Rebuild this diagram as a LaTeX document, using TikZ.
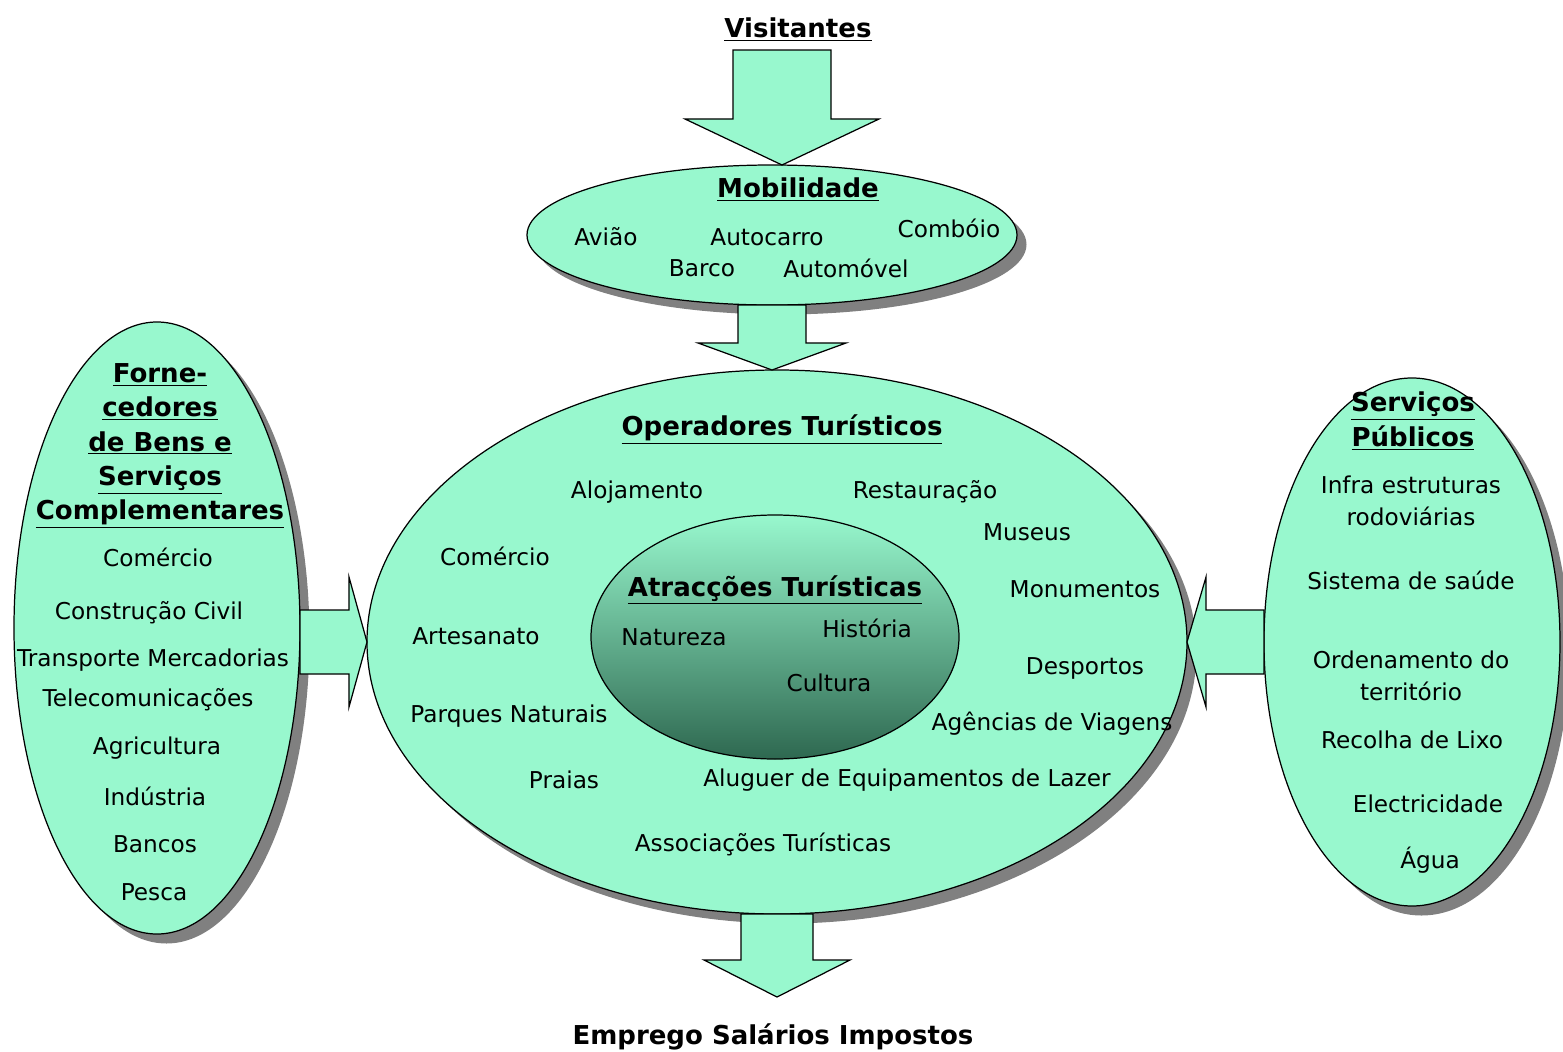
\documentclass[tikz,border=0pt]{standalone}
\usepackage{fontspec}
\setmainfont{DejaVu Sans}
\usetikzlibrary{shapes.geometric,shadows,calc,positioning}

\definecolor{mint}{RGB}{152,248,206}
\definecolor{deepmint}{RGB}{46,104,80}
\definecolor{shadowgray}{RGB}{128,128,128}

\newcommand{\ttl}[1]{\underline{#1}}
% fat arrow: from, to, shaft half width, head half width, head length
\newcommand{\blockarrow}[5]{%
  \coordinate (ba-h) at ($(#2)!#5!(#1)$);
  \filldraw[bigarrow] ($(#1)!#3!90:(#2)$) -- ($(ba-h)!#3!90:(#2)$) -- ($(ba-h)!#4!90:(#2)$) -- (#2)
    -- ($(ba-h)!#4!-90:(#2)$) -- ($(ba-h)!#3!-90:(#2)$) -- ($(#1)!#3!-90:(#2)$) -- cycle;
}

\begin{document}
\begin{tikzpicture}[x=0.2mm,y=-0.2mm]
\tikzstyle{bubble}=[ellipse, draw=black, line width=0.7pt, fill=mint, inner sep=0pt, outer sep=0pt,
	drop shadow={shadow xshift=1.9mm, shadow yshift=-1.9mm, fill=shadowgray, opacity=1}]
\tikzstyle{core}=[ellipse, draw=black, line width=0.7pt, inner sep=0pt, outer sep=0pt,
	top color=mint, bottom color=deepmint]
\tikzstyle{bigarrow}=[draw=black, line width=0.7pt, fill=mint, line join=miter]
\tikzstyle{item}=[inner sep=0pt, align=center, font=\fontsize{13.2}{18.2}\selectfont]
\tikzstyle{heading}=[inner sep=0pt, align=center, font=\fontsize{14.8}{19.6}\selectfont\bfseries]

\useasboundingbox (0,0) rectangle (1563,1052);

% the four groups
\node[bubble, minimum width=57.2mm, minimum height=122.4mm] (forn) at (157,628) {};
\node[bubble, minimum width=59.2mm, minimum height=105.6mm] (serv) at (1412,642) {};
\node[bubble, minimum width=98mm, minimum height=28mm] (mob) at (772,235) {};
\node[bubble, minimum width=164mm, minimum height=108.8mm] (op) at (777,642) {};

% flows
\coordinate (vin) at (782,50);
\coordinate (vout) at (vin |- mob.north);
\coordinate (oin) at (mob.south |- op.north);
\coordinate (eout) at ($(op.south)+(0,83)$);
\coordinate (fout) at (forn.east |- op.west);
\coordinate (sout) at (serv.west |- op.east);
\blockarrow{vin}{vout}{9.8mm}{19.4mm}{9.2mm}
\blockarrow{mob.south}{oin}{6.8mm}{14.8mm}{5.4mm}
\blockarrow{op.south}{eout}{7.2mm}{14.6mm}{7.4mm}
\blockarrow{fout}{op.west}{6.4mm}{13mm}{3.6mm}
\blockarrow{sout}{op.east}{6.4mm}{13mm}{3.8mm}

\node[core, minimum width=73.6mm, minimum height=48.8mm] (atr) at (775,637) {};

% titles
\node[heading] (vis) at (798,30) {\ttl{Visitantes}};
\node[heading] (mobt) at (798,190) {\ttl{Mobilidade}};
\node[heading] (opt) at (782,430) {\ttl{Operadores Turísticos}};
\node[heading] (atrt) at (775,590) {\ttl{Atracções Turísticas}};
\node[heading] (fornt) at (160,446) {\ttl{Forne-}\\\ttl{cedores}\\\ttl{de Bens e}\\\ttl{Serviços}\\\ttl{Complementares}};
\node[heading] (servt) at (1413,421) {\ttl{Serviços}\\\ttl{Públicos}};
\node[heading] (emp) at (773,1037) {Emprego Salários Impostos};

% mobilidade
\node[item] (aviao) at (606,237) {Avião};
\node[item] (autoc) at (767,237) {Autocarro};
\node[item] (comb) at (949,228) {Combóio};
\node[item] (barco) at (702,268) {Barco};
\node[item] (autom) at (846,268) {Automóvel};

% operadores
\node[item] (aloj) at (637,492) {Alojamento};
\node[item] (rest) at (925,492) {Restauração};
\node[item] (mus) at (1027,532) {Museus};
\node[item] (com) at (495,556) {Comércio};
\node[item] (mon) at (1085,589) {Monumentos};
\node[item] (art) at (476,636) {Artesanato};
\node[item] (desp) at (1085,668) {Desportos};
\node[item] (parq) at (509,716) {Parques Naturais};
\node[item] (agen) at (1052,724) {Agências de Viagens};
\node[item] (praia) at (564,780) {Praias};
\node[item] (alug) at (907,780) {Aluguer de Equipamentos de Lazer};
\node[item] (assoc) at (763,844) {Associações Turísticas};

% atraccoes
\node[item] (nat) at (674,637) {Natureza};
\node[item] (hist) at (867,628) {História};
\node[item] (cult) at (829,683) {Cultura};

% fornecedores
\node[item] (fcom) at (158,557) {Comércio};
\node[item] (fcons) at (149,613) {Construção Civil};
\node[item] (ftran) at (153,660) {Transporte Mercadorias};
\node[item] (ftel) at (148,700) {Telecomunicações};
\node[item] (fagr) at (157,748) {Agricultura};
\node[item] (find) at (155,796) {Indústria};
\node[item] (fban) at (155,844) {Bancos};
\node[item] (fpes) at (154,892) {Pesca};

% servicos publicos
\node[item] (sinf) at (1411,501) {Infra estruturas\\rodoviárias};
\node[item] (ssau) at (1411,580) {Sistema de saúde};
\node[item] (sord) at (1411,676) {Ordenamento do\\território};
\node[item] (slix) at (1412,740) {Recolha de Lixo};
\node[item] (sele) at (1428,804) {Electricidade};
\node[item] (sagu) at (1430,860) {Água};

\end{tikzpicture}
\end{document}
